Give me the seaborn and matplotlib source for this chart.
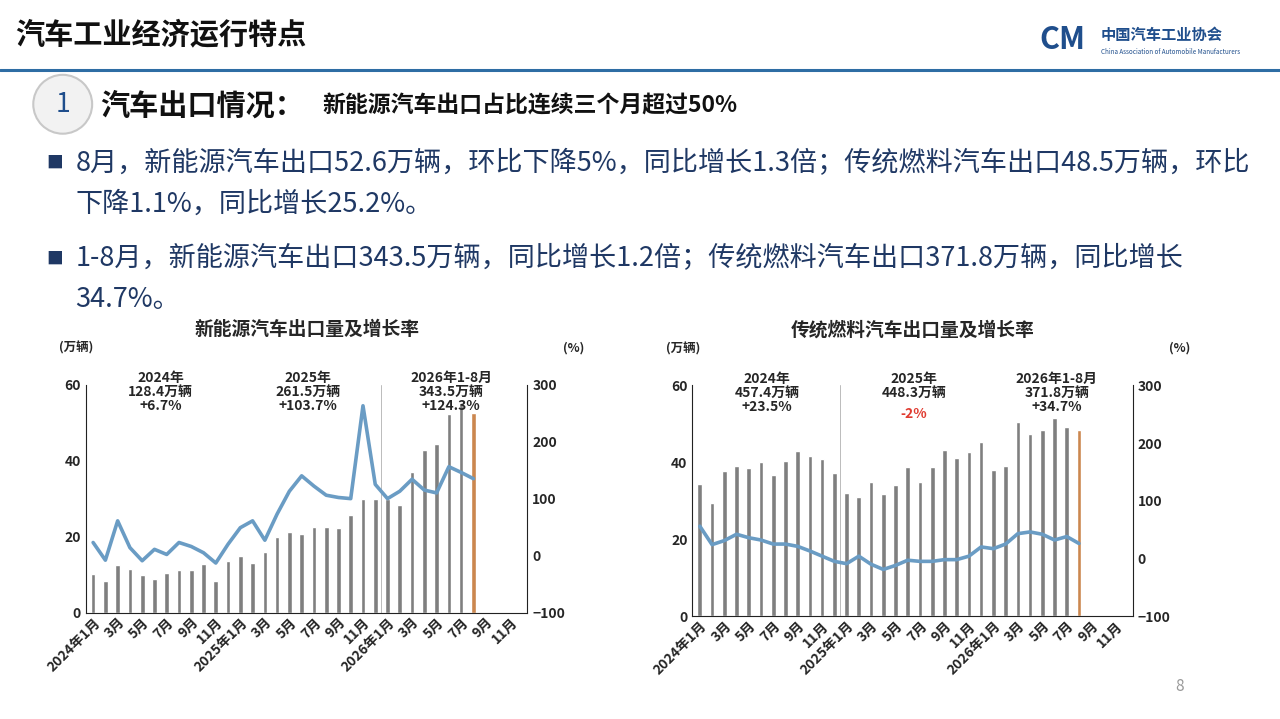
import matplotlib
matplotlib.use("Agg")
import matplotlib.pyplot as plt
from matplotlib.patches import Ellipse
import numpy as np
import pandas as pd
import seaborn as sns

sns.set_style("white")
plt.rcParams["font.family"] = ["Noto Sans CJK SC", "DejaVu Sans"]

# ---------------------------------------------------------------------------
# Data
# ---------------------------------------------------------------------------
months = [f"{y}-{m}" for y in (2024, 2025, 2026) for m in range(1, 13)]
tick_labels = []
for y in (2024, 2025, 2026):
    for m in range(1, 13):
        if m == 1:
            tick_labels.append(f"{y}年1月")
        elif m % 2 == 1:
            tick_labels.append(f"{m}月")
        else:
            tick_labels.append("")

nev_volume = [10.1, 8.2, 12.4, 11.4, 9.8, 8.8, 10.3, 11.2, 11.2, 12.7, 8.2, 13.6,
              14.9, 13.0, 15.9, 20.0, 21.2, 20.6, 22.4, 22.4, 22.2, 25.6, 29.9, 29.9,
              30.0, 28.2, 37.0, 42.9, 44.5, 52.2, 55.2, 52.6]
nev_growth = [23, -8, 61, 14, -9, 11, 2, 23, 16, 5, -13, 20,
              49, 61, 27, 73, 113, 140, 122, 106, 102, 100, 263, 125,
              100, 113, 134, 115, 110, 156, 146, 135]

ice_volume = [34.3, 29.5, 37.7, 39.0, 38.4, 40.0, 36.6, 40.3, 42.9, 41.6, 40.8, 37.1,
              32.0, 31.0, 35.0, 31.8, 34.0, 38.7, 35.0, 38.7, 43.2, 41.0, 42.8, 45.4,
              37.9, 39.1, 50.6, 47.3, 48.3, 51.4, 49.1, 48.5]
ice_growth = [56, 24, 31, 42, 36, 32, 25, 25, 21, 13, 4, -5,
              -9, 4, -10, -19, -12, -3, -5, -5, -2, -2, 4, 20,
              17, 25, 43, 46, 42, 32, 38, 26]

nev_notes = [("2024年\n128.4万辆\n+6.7%", None), ("2025年\n261.5万辆\n+103.7%", None),
             ("2026年1-8月\n343.5万辆\n+124.3%", None)]
ice_notes = [("2024年\n457.4万辆\n+23.5%", None), ("2025年\n448.3万辆", "-2%"),
             ("2026年1-8月\n371.8万辆\n+34.7%", None)]

GREY = "#7f7f7f"
ORANGE = "#e0853a"
LINE = "#6a9cc4"
TEXT = "#1f3864"

fig = plt.figure(figsize=(12.8, 7.19), dpi=100)
fig.patch.set_facecolor("white")

# ---------------------------------------------------------------------------
# Slide header
# ---------------------------------------------------------------------------
fig.text(0.012, 0.952, "汽车工业经济运行特点", fontsize=21, fontweight="bold",
         color="#111111", va="center")
fig.add_artist(plt.Line2D([0, 1], [0.903, 0.903], color="#2e6da4", lw=2.2))
fig.text(0.86, 0.952, "中国汽车工业协会", fontsize=11, fontweight="bold",
         color="#1f4e8c", va="center")
fig.text(0.86, 0.928, "China Association of Automobile Manufacturers", fontsize=4.5,
         color="#1f4e8c", va="center")
fig.text(0.812, 0.945, "CM", fontsize=22, fontweight="bold", color="#1f4e8c",
         va="center", style="italic")

circle = Ellipse((0.049, 0.855), 0.046, 0.046 * 1280 / 719, transform=fig.transFigure,
                 facecolor="#f2f2f2", edgecolor="#c8c8c8", lw=1.5)
fig.add_artist(circle)
fig.text(0.049, 0.855, "1", fontsize=19, color="#1f4e8c", va="center", ha="center")
fig.text(0.078, 0.853, "汽车出口情况：", fontsize=21, fontweight="bold",
         color="#111111", va="center")
fig.text(0.252, 0.853, "新能源汽车出口占比连续三个月超过50%", fontsize=16.5,
         fontweight="bold", color="#111111", va="center")

bullets = [
    (0.773, "8月，新能源汽车出口52.6万辆，环比下降5%，同比增长1.3倍；传统燃料汽车出口48.5万辆，环比"),
    (0.716, "下降1.1%，同比增长25.2%。"),
    (0.640, "1-8月，新能源汽车出口343.5万辆，同比增长1.2倍；传统燃料汽车出口371.8万辆，同比增长"),
    (0.583, "34.7%。"),
]
for y, s in bullets:
    fig.text(0.059, y, s, fontsize=19.5, color=TEXT, va="center")
for y in (0.773, 0.640):
    fig.text(0.036, y, "■", fontsize=12, color=TEXT, va="center")

fig.text(0.918, 0.045, "8", fontsize=11, color="#999999", va="center")


# ---------------------------------------------------------------------------
# Charts
# ---------------------------------------------------------------------------
def draw_chart(rect, title, volume, growth, notes, split):
    ax = fig.add_axes(rect)
    n = len(volume)
    df = pd.DataFrame({"month": months[:n], "value": volume})
    colors = {m: GREY for m in months}
    colors[months[n - 1]] = ORANGE
    sns.barplot(data=df, x="month", y="value", order=months, hue="month",
                palette=colors, legend=False, width=0.38, ax=ax)
    ax.set_ylim(0, 60)
    ax.set_yticks([0, 20, 40, 60])
    ax.set_xlim(-0.6, 35.4)
    ax.set_xticks(range(len(months)))
    ax.set_xticklabels(tick_labels, rotation=45, ha="right", rotation_mode="anchor",
                       fontsize=10, fontweight="bold")
    ax.tick_params(axis="x", length=0, pad=2)
    ax.tick_params(axis="y", length=0, labelsize=10)
    for lab in ax.get_yticklabels():
        lab.set_fontweight("bold")
    ax.set_xlabel("")
    ax.set_ylabel("")
    for s in ("top", "right"):
        ax.spines[s].set_visible(False)
    ax.spines["left"].set_color("#222222")
    ax.spines["bottom"].set_color("#222222")
    ax.axvline(split, color="#bbbbbb", lw=0.7)

    ax2 = ax.twinx()
    sns.lineplot(x=np.arange(n), y=growth, color=LINE, lw=2.6, ax=ax2)
    ax2.set_ylim(-100, 300)
    ax2.set_yticks([-100, 0, 100, 200, 300])
    ax2.tick_params(axis="y", length=0, labelsize=10)
    for lab in ax2.get_yticklabels():
        lab.set_fontweight("bold")
    for s in ("top", "left", "bottom"):
        ax2.spines[s].set_visible(False)
    ax2.spines["right"].set_color("#222222")

    ax.set_title(title, fontsize=13.5, fontweight="bold", pad=36)
    ax.text(-0.06, 1.16, "(万辆)", transform=ax.transAxes, fontsize=9,
            fontweight="bold", va="center")
    ax.text(1.13, 1.16, "(%)", transform=ax.transAxes, fontsize=9,
            fontweight="bold", va="center", ha="right")
    for xpos, (txt, red) in zip((5.5, 17.5, 29.2), notes):
        ax.text(xpos, 63.5, txt, fontsize=10, fontweight="bold", ha="center",
                va="top", linespacing=1.0)
        if red:
            ax.text(xpos, 52.5, red, fontsize=10, fontweight="bold", ha="center",
                    va="center", color="#e03c31")


draw_chart([0.067, 0.148, 0.345, 0.317], "新能源汽车出口量及增长率",
           nev_volume, nev_growth, nev_notes, 23.5)
draw_chart([0.541, 0.143, 0.344, 0.321], "传统燃料汽车出口量及增长率",
           ice_volume, ice_growth, ice_notes, 11.5)

fig.savefig("out.png", dpi=100)
